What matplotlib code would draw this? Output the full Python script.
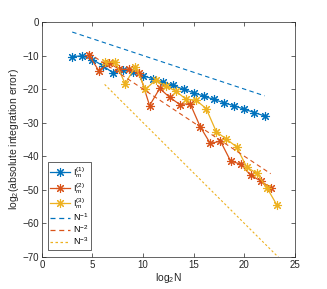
import numpy as np
import matplotlib
matplotlib.use("Agg")
import matplotlib.pyplot as plt

plt.rcParams['font.family'] = ['Liberation Sans', 'DejaVu Sans']
plt.rcParams['mathtext.fontset'] = 'custom'
plt.rcParams['mathtext.rm'] = 'Liberation Sans'
plt.rcParams['mathtext.it'] = 'Liberation Sans:italic'

# Data
x1 = list(range(3, 23))
y1 = [-10.3, -10.1, -11.2, -13.0, -15.1, -14.3, -14.8, -16.1, -16.9, -17.9,
      -18.9, -20.1, -21.1, -22.1, -23.1, -24.1, -25.0, -26.0, -27.0, -28.0]

x2 = [4.64 + k for k in range(19)]
y2 = [-9.8, -14.6, -12.2, -14.1, -14.1, -15.3, -24.9, -19.8, -22.5, -24.6,
      -24.3, -31.2, -36.2, -35.5, -41.4, -42.4, -45.7, -47.4, -49.5]

x3 = [6.23 + k for k in range(18)]
y3 = [-12.0, -11.8, -18.4, -13.3, -20.1, -17.3, -19.1, -20.6, -23.0, -23.3,
      -25.8, -32.7, -34.9, -37.2, -43.2, -45.1, -49.4, -54.6]

ref1_x = [3, 22]
ref1_y = [-3, -22]
ref2_x = [4.6, 22.6]
ref2_y = [-9.2, -45.2]
ref3_x = [6.2, 23.4]
ref3_y = [-18.6, -70.2]

blue = '#0072BD'
orange = '#D95319'
yellow = '#EDB120'

fig = plt.figure(figsize=(3.27, 2.89), dpi=100)
ax = fig.add_axes([0.128, 0.111, 0.774, 0.813])

star = (8, 2, 0)
mk = dict(lw=0.9, ms=6.5, mew=0.8, marker=star)
ax.plot(x1, y1, '-', color=blue, label=r'$\mathrm{I}_m^{(1)}$', **mk)
ax.plot(x2, y2, '-', color=orange, label=r'$\mathrm{I}_m^{(2)}$', **mk)
ax.plot(x3, y3, '-', color=yellow, label=r'$\mathrm{I}_m^{(3)}$', **mk)
ax.plot(ref1_x, ref1_y, '--', color=blue, lw=0.8, dashes=(4, 3), label=r'N$^{-1}$')
ax.plot(ref2_x, ref2_y, '--', color=orange, lw=0.8, dashes=(4, 3), label=r'N$^{-2}$')
ax.plot(ref3_x, ref3_y, '--', color=yellow, lw=0.8, dashes=(2, 2), label=r'N$^{-3}$')

ax.set_xlim(0, 25)
ax.set_ylim(-70, 0)
ax.set_xticks([0, 5, 10, 15, 20, 25])
ax.set_yticks([0, -10, -20, -30, -40, -50, -60, -70])
ax.tick_params(direction='in', length=3, width=0.5, labelsize=7, colors='#262626',
               top=True, right=True, pad=2)
for s in ax.spines.values():
    s.set_linewidth(0.5)
    s.set_color('#262626')

ax.set_xlabel(r'log$_2$N', fontsize=7.5, color='#262626', labelpad=1)
ax.set_ylabel(r'log$_2$(absolute integration error)', fontsize=7.5, color='#262626', labelpad=1)

leg = ax.legend(loc='lower left', fontsize=6.5, handlelength=2.2, borderpad=0.3,
                labelspacing=0.05, handletextpad=0.3, fancybox=False,
                bbox_to_anchor=(0.005, 0.01), framealpha=1)
leg.get_frame().set_edgecolor('#262626')
leg.get_frame().set_linewidth(0.5)
for h in leg.get_lines():
    h.set_linewidth(0.9)

fig.savefig('out.png', dpi=100)
